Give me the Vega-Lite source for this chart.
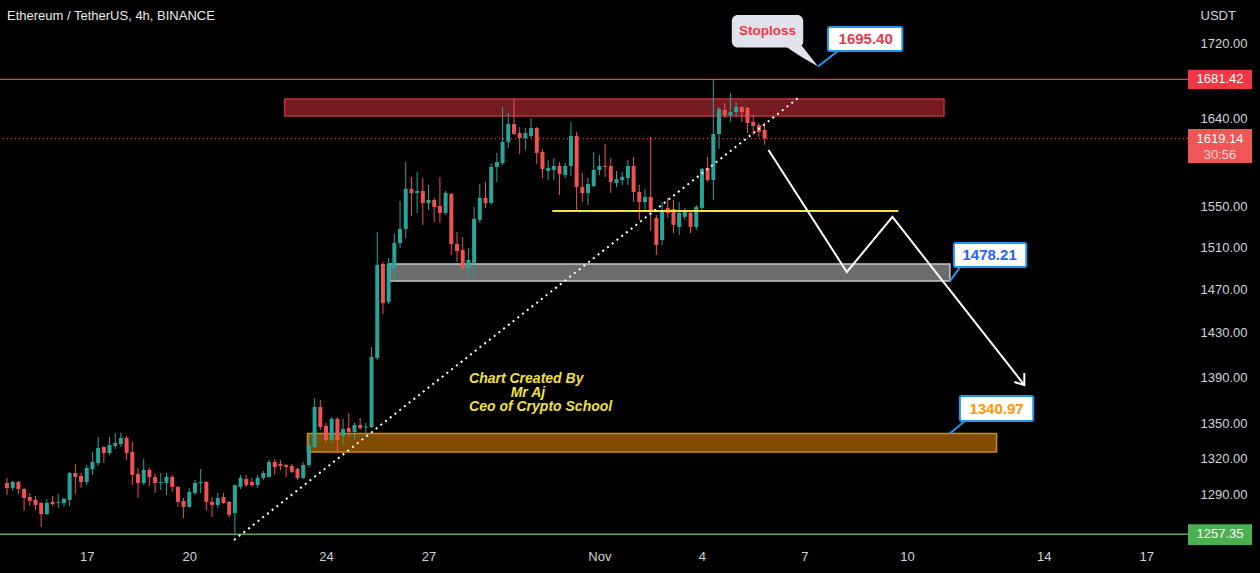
{
  "$schema": "https://vega.github.io/schema/vega-lite/v6.json",
  "width": 1188,
  "height": 545,
  "autosize": {"type": "none"},
  "padding": {"left": 0, "top": 0, "right": 72, "bottom": 28},
  "background": "#000000",
  "config": {"view": {"stroke": null}, "font": "Liberation Sans"},
  "title": {"text": "Ethereum / TetherUS, 4h, BINANCE", "anchor": "start", "frame": "group", "orient": "top", "offset": -23, "dx": 7, "font": "Liberation Sans", "fontSize": 13, "fontWeight": "normal", "color": "#ececec"},
  "datasets": {
    "candles": [
      {"t":"2022-10-14T16:00:00Z","o":1299.3,"h":1303.5,"l":1289.4,"c":1295.2},
      {"t":"2022-10-14T20:00:00Z","o":1295.2,"h":1300.9,"l":1292.7,"c":1300.1},
      {"t":"2022-10-15T00:00:00Z","o":1300.1,"h":1300.9,"l":1290.2,"c":1294.3},
      {"t":"2022-10-15T04:00:00Z","o":1294.3,"h":1295.0,"l":1276.3,"c":1286.9},
      {"t":"2022-10-15T08:00:00Z","o":1287.7,"h":1291.0,"l":1280.4,"c":1284.5},
      {"t":"2022-10-15T12:00:00Z","o":1285.3,"h":1288.6,"l":1277.1,"c":1281.2},
      {"t":"2022-10-15T16:00:00Z","o":1282.8,"h":1283.5,"l":1263.3,"c":1273.8},
      {"t":"2022-10-15T20:00:00Z","o":1273.8,"h":1286.1,"l":1273.0,"c":1282.8},
      {"t":"2022-10-16T00:00:00Z","o":1283.7,"h":1288.6,"l":1280.4,"c":1282.0},
      {"t":"2022-10-16T04:00:00Z","o":1283.0,"h":1290.2,"l":1278.8,"c":1283.7},
      {"t":"2022-10-16T08:00:00Z","o":1282.8,"h":1286.9,"l":1279.6,"c":1286.1},
      {"t":"2022-10-16T12:00:00Z","o":1285.3,"h":1308.5,"l":1280.4,"c":1307.6},
      {"t":"2022-10-16T16:00:00Z","o":1307.6,"h":1315.1,"l":1290.2,"c":1304.3},
      {"t":"2022-10-16T20:00:00Z","o":1305.1,"h":1307.6,"l":1295.2,"c":1300.1},
      {"t":"2022-10-17T00:00:00Z","o":1300.1,"h":1314.3,"l":1297.6,"c":1311.8},
      {"t":"2022-10-17T04:00:00Z","o":1310.9,"h":1325.3,"l":1306.0,"c":1316.8},
      {"t":"2022-10-17T08:00:00Z","o":1316.0,"h":1338.1,"l":1313.5,"c":1328.7},
      {"t":"2022-10-17T12:00:00Z","o":1329.5,"h":1330.3,"l":1316.0,"c":1324.4},
      {"t":"2022-10-17T16:00:00Z","o":1324.4,"h":1338.1,"l":1322.7,"c":1331.2},
      {"t":"2022-10-17T20:00:00Z","o":1330.3,"h":1341.5,"l":1327.8,"c":1332.9},
      {"t":"2022-10-18T00:00:00Z","o":1332.0,"h":1341.5,"l":1329.5,"c":1337.2},
      {"t":"2022-10-18T04:00:00Z","o":1337.2,"h":1338.9,"l":1318.5,"c":1324.4},
      {"t":"2022-10-18T08:00:00Z","o":1325.3,"h":1333.7,"l":1297.6,"c":1306.0},
      {"t":"2022-10-18T12:00:00Z","o":1306.8,"h":1311.8,"l":1286.9,"c":1299.3},
      {"t":"2022-10-18T16:00:00Z","o":1299.3,"h":1319.4,"l":1297.6,"c":1310.1},
      {"t":"2022-10-18T20:00:00Z","o":1310.1,"h":1311.8,"l":1296.8,"c":1304.3},
      {"t":"2022-10-19T00:00:00Z","o":1304.3,"h":1306.8,"l":1291.0,"c":1299.3},
      {"t":"2022-10-19T04:00:00Z","o":1299.3,"h":1307.6,"l":1293.5,"c":1300.1},
      {"t":"2022-10-19T08:00:00Z","o":1299.3,"h":1307.6,"l":1289.4,"c":1304.3},
      {"t":"2022-10-19T12:00:00Z","o":1304.3,"h":1306.0,"l":1291.8,"c":1296.0},
      {"t":"2022-10-19T16:00:00Z","o":1296.0,"h":1296.8,"l":1279.6,"c":1283.7},
      {"t":"2022-10-19T20:00:00Z","o":1284.5,"h":1286.9,"l":1270.5,"c":1279.6},
      {"t":"2022-10-20T00:00:00Z","o":1279.6,"h":1295.2,"l":1278.8,"c":1291.8},
      {"t":"2022-10-20T04:00:00Z","o":1291.0,"h":1301.8,"l":1289.4,"c":1299.3},
      {"t":"2022-10-20T08:00:00Z","o":1299.3,"h":1310.9,"l":1291.0,"c":1300.1},
      {"t":"2022-10-20T12:00:00Z","o":1300.1,"h":1300.9,"l":1277.1,"c":1283.7},
      {"t":"2022-10-20T16:00:00Z","o":1283.7,"h":1287.7,"l":1271.3,"c":1281.2},
      {"t":"2022-10-20T20:00:00Z","o":1281.2,"h":1291.0,"l":1278.8,"c":1286.9},
      {"t":"2022-10-21T00:00:00Z","o":1287.7,"h":1291.0,"l":1282.0,"c":1282.8},
      {"t":"2022-10-21T04:00:00Z","o":1283.7,"h":1284.5,"l":1271.3,"c":1273.0},
      {"t":"2022-10-21T08:00:00Z","o":1274.6,"h":1297.6,"l":1257.35,"c":1297.6},
      {"t":"2022-10-21T12:00:00Z","o":1296.0,"h":1306.0,"l":1294.3,"c":1303.5},
      {"t":"2022-10-21T16:00:00Z","o":1302.6,"h":1306.0,"l":1296.0,"c":1297.6},
      {"t":"2022-10-21T20:00:00Z","o":1300.1,"h":1303.5,"l":1296.0,"c":1297.6},
      {"t":"2022-10-22T00:00:00Z","o":1297.6,"h":1306.0,"l":1295.0,"c":1303.5},
      {"t":"2022-10-22T04:00:00Z","o":1303.5,"h":1309.3,"l":1301.8,"c":1307.6},
      {"t":"2022-10-22T08:00:00Z","o":1304.3,"h":1318.5,"l":1303.5,"c":1316.8},
      {"t":"2022-10-22T12:00:00Z","o":1316.8,"h":1319.4,"l":1306.0,"c":1312.6},
      {"t":"2022-10-22T16:00:00Z","o":1315.1,"h":1318.5,"l":1310.1,"c":1313.5},
      {"t":"2022-10-22T20:00:00Z","o":1314.3,"h":1315.1,"l":1304.3,"c":1312.6},
      {"t":"2022-10-23T00:00:00Z","o":1313.5,"h":1315.1,"l":1307.6,"c":1308.5},
      {"t":"2022-10-23T04:00:00Z","o":1310.9,"h":1311.8,"l":1301.8,"c":1303.5},
      {"t":"2022-10-23T08:00:00Z","o":1303.5,"h":1316.8,"l":1302.6,"c":1314.3},
      {"t":"2022-10-23T12:00:00Z","o":1314.3,"h":1339.8,"l":1312.6,"c":1331.2},
      {"t":"2022-10-23T16:00:00Z","o":1329.5,"h":1371.8,"l":1328.7,"c":1363.9},
      {"t":"2022-10-23T20:00:00Z","o":1363.9,"h":1370.1,"l":1344.0,"c":1346.6},
      {"t":"2022-10-24T00:00:00Z","o":1347.4,"h":1350.1,"l":1332.9,"c":1335.5},
      {"t":"2022-10-24T04:00:00Z","o":1335.5,"h":1355.3,"l":1332.9,"c":1353.6},
      {"t":"2022-10-24T08:00:00Z","o":1353.6,"h":1355.3,"l":1324.4,"c":1335.5},
      {"t":"2022-10-24T12:00:00Z","o":1338.9,"h":1353.6,"l":1332.9,"c":1344.9},
      {"t":"2022-10-24T16:00:00Z","o":1345.7,"h":1358.7,"l":1338.1,"c":1342.3},
      {"t":"2022-10-24T20:00:00Z","o":1342.3,"h":1350.1,"l":1335.5,"c":1348.3},
      {"t":"2022-10-25T00:00:00Z","o":1348.3,"h":1354.4,"l":1344.0,"c":1345.7},
      {"t":"2022-10-25T04:00:00Z","o":1346.2,"h":1350.1,"l":1341.5,"c":1347.0},
      {"t":"2022-10-25T08:00:00Z","o":1346.6,"h":1417.2,"l":1345.7,"c":1408.2},
      {"t":"2022-10-25T12:00:00Z","o":1407.3,"h":1525.3,"l":1405.5,"c":1493.5},
      {"t":"2022-10-25T16:00:00Z","o":1494.4,"h":1496.3,"l":1447.4,"c":1457.7},
      {"t":"2022-10-25T20:00:00Z","o":1458.6,"h":1500.2,"l":1456.8,"c":1495.0},
      {"t":"2022-10-26T00:00:00Z","o":1490.0,"h":1523.4,"l":1477.4,"c":1514.6},
      {"t":"2022-10-26T04:00:00Z","o":1514.6,"h":1555.8,"l":1509.8,"c":1528.3},
      {"t":"2022-10-26T08:00:00Z","o":1528.3,"h":1595.0,"l":1519.5,"c":1567.8},
      {"t":"2022-10-26T12:00:00Z","o":1567.8,"h":1579.8,"l":1541.0,"c":1563.8},
      {"t":"2022-10-26T16:00:00Z","o":1563.8,"h":1584.9,"l":1544.0,"c":1565.8},
      {"t":"2022-10-26T20:00:00Z","o":1565.8,"h":1578.8,"l":1532.2,"c":1553.8},
      {"t":"2022-10-27T00:00:00Z","o":1553.8,"h":1571.8,"l":1546.9,"c":1556.8},
      {"t":"2022-10-27T04:00:00Z","o":1556.8,"h":1558.8,"l":1535.1,"c":1549.9},
      {"t":"2022-10-27T08:00:00Z","o":1550.9,"h":1579.8,"l":1534.1,"c":1544.0},
      {"t":"2022-10-27T12:00:00Z","o":1544.0,"h":1565.8,"l":1542.0,"c":1563.8},
      {"t":"2022-10-27T16:00:00Z","o":1562.8,"h":1563.8,"l":1503.1,"c":1513.6},
      {"t":"2022-10-27T20:00:00Z","o":1513.6,"h":1525.3,"l":1496.4,"c":1506.9},
      {"t":"2022-10-28T00:00:00Z","o":1507.9,"h":1520.4,"l":1488.7,"c":1490.6},
      {"t":"2022-10-28T04:00:00Z","o":1490.6,"h":1509.8,"l":1482.1,"c":1498.3},
      {"t":"2022-10-28T08:00:00Z","o":1495.4,"h":1549.9,"l":1481.2,"c":1538.1},
      {"t":"2022-10-28T12:00:00Z","o":1537.1,"h":1572.8,"l":1534.1,"c":1558.8},
      {"t":"2022-10-28T16:00:00Z","o":1558.8,"h":1574.8,"l":1548.9,"c":1553.8},
      {"t":"2022-10-28T20:00:00Z","o":1553.8,"h":1594.0,"l":1551.9,"c":1590.0},
      {"t":"2022-10-29T00:00:00Z","o":1590.0,"h":1604.3,"l":1574.8,"c":1595.0},
      {"t":"2022-10-29T04:00:00Z","o":1594.0,"h":1652.1,"l":1592.0,"c":1615.6},
      {"t":"2022-10-29T08:00:00Z","o":1615.6,"h":1645.8,"l":1609.4,"c":1634.3},
      {"t":"2022-10-29T12:00:00Z","o":1634.3,"h":1660.6,"l":1622.8,"c":1623.8},
      {"t":"2022-10-29T16:00:00Z","o":1624.8,"h":1631.1,"l":1603.3,"c":1619.7},
      {"t":"2022-10-29T20:00:00Z","o":1619.7,"h":1630.1,"l":1607.4,"c":1624.8},
      {"t":"2022-10-30T00:00:00Z","o":1621.8,"h":1640.6,"l":1619.7,"c":1630.1},
      {"t":"2022-10-30T04:00:00Z","o":1630.1,"h":1631.1,"l":1593.0,"c":1604.3},
      {"t":"2022-10-30T08:00:00Z","o":1605.3,"h":1608.4,"l":1578.8,"c":1588.0},
      {"t":"2022-10-30T12:00:00Z","o":1586.0,"h":1597.1,"l":1576.8,"c":1588.9},
      {"t":"2022-10-30T16:00:00Z","o":1587.0,"h":1599.1,"l":1576.8,"c":1591.0},
      {"t":"2022-10-30T20:00:00Z","o":1591.0,"h":1595.0,"l":1561.8,"c":1582.9},
      {"t":"2022-10-31T00:00:00Z","o":1581.9,"h":1594.0,"l":1578.8,"c":1591.0},
      {"t":"2022-10-31T04:00:00Z","o":1591.0,"h":1636.4,"l":1580.9,"c":1621.8},
      {"t":"2022-10-31T08:00:00Z","o":1621.8,"h":1626.0,"l":1545.0,"c":1569.8},
      {"t":"2022-10-31T12:00:00Z","o":1569.8,"h":1583.9,"l":1554.8,"c":1563.8},
      {"t":"2022-10-31T16:00:00Z","o":1563.8,"h":1578.8,"l":1551.9,"c":1572.8},
      {"t":"2022-10-31T20:00:00Z","o":1570.8,"h":1605.3,"l":1569.8,"c":1587.0},
      {"t":"2022-11-01T00:00:00Z","o":1587.0,"h":1602.2,"l":1581.9,"c":1591.0},
      {"t":"2022-11-01T04:00:00Z","o":1591.0,"h":1613.5,"l":1579.8,"c":1590.0},
      {"t":"2022-11-01T08:00:00Z","o":1591.0,"h":1599.1,"l":1563.8,"c":1574.8},
      {"t":"2022-11-01T12:00:00Z","o":1573.8,"h":1585.9,"l":1569.8,"c":1577.8},
      {"t":"2022-11-01T16:00:00Z","o":1576.8,"h":1584.9,"l":1571.8,"c":1579.8},
      {"t":"2022-11-01T20:00:00Z","o":1578.8,"h":1597.1,"l":1571.8,"c":1591.0},
      {"t":"2022-11-02T00:00:00Z","o":1591.0,"h":1600.2,"l":1554.8,"c":1564.8},
      {"t":"2022-11-02T04:00:00Z","o":1564.8,"h":1571.8,"l":1537.1,"c":1554.8},
      {"t":"2022-11-02T08:00:00Z","o":1554.8,"h":1567.8,"l":1546.9,"c":1559.8},
      {"t":"2022-11-02T12:00:00Z","o":1559.8,"h":1620.8,"l":1526.3,"c":1544.9},
      {"t":"2022-11-02T16:00:00Z","o":1539.1,"h":1542.0,"l":1503.1,"c":1512.7},
      {"t":"2022-11-02T20:00:00Z","o":1517.5,"h":1554.8,"l":1512.7,"c":1544.9},
      {"t":"2022-11-03T00:00:00Z","o":1548.9,"h":1558.8,"l":1539.1,"c":1544.0},
      {"t":"2022-11-03T04:00:00Z","o":1547.9,"h":1556.8,"l":1524.3,"c":1532.2},
      {"t":"2022-11-03T08:00:00Z","o":1530.2,"h":1554.8,"l":1522.4,"c":1544.0},
      {"t":"2022-11-03T12:00:00Z","o":1540.1,"h":1548.9,"l":1537.1,"c":1546.9},
      {"t":"2022-11-03T16:00:00Z","o":1544.0,"h":1544.9,"l":1524.3,"c":1530.2},
      {"t":"2022-11-03T20:00:00Z","o":1530.2,"h":1551.9,"l":1527.3,"c":1549.9},
      {"t":"2022-11-04T00:00:00Z","o":1548.9,"h":1589.0,"l":1546.9,"c":1588.0},
      {"t":"2022-11-04T04:00:00Z","o":1589.0,"h":1600.2,"l":1574.8,"c":1576.8},
      {"t":"2022-11-04T08:00:00Z","o":1576.8,"h":1681.42,"l":1556.8,"c":1623.8},
      {"t":"2022-11-04T12:00:00Z","o":1623.8,"h":1652.1,"l":1608.4,"c":1650.0},
      {"t":"2022-11-04T16:00:00Z","o":1649.0,"h":1656.3,"l":1640.6,"c":1643.7},
      {"t":"2022-11-04T20:00:00Z","o":1643.7,"h":1666.7,"l":1636.4,"c":1646.8},
      {"t":"2022-11-05T00:00:00Z","o":1646.8,"h":1657.4,"l":1641.6,"c":1652.1},
      {"t":"2022-11-05T04:00:00Z","o":1652.1,"h":1652.6,"l":1636.4,"c":1646.8},
      {"t":"2022-11-05T08:00:00Z","o":1651.0,"h":1652.1,"l":1624.9,"c":1635.3},
      {"t":"2022-11-05T12:00:00Z","o":1636.4,"h":1643.7,"l":1622.8,"c":1632.2},
      {"t":"2022-11-05T16:00:00Z","o":1633.2,"h":1635.3,"l":1620.8,"c":1625.9},
      {"t":"2022-11-05T20:00:00Z","o":1628.0,"h":1636.4,"l":1612.5,"c":1619.14}
    ],
    "zones": [
      {"t1":"2022-10-22T18:57:00Z","t2":"2022-11-11T01:58:00Z","p1":1660.6,"p2":1642.6,"zone":"resistance"},
      {"t1":"2022-10-25T20:46:00Z","t2":"2022-11-11T06:08:00Z","p1":1494.4,"p2":1478.21,"zone":"middle"},
      {"t1":"2022-10-23T10:58:00Z","t2":"2022-11-12T14:52:00Z","p1":1340.97,"p2":1325.3,"zone":"support"}
    ],
    "levels": [
      {"lvl":"high","p":1681.42,"label":"1681.42","top":1692.0,"bottom":1671.3},
      {"lvl":"last","p":1619.14,"label":"1619.14","top":1629.0,"bottom":1594.0},
      {"lvl":"low","p":1257.35,"label":"1257.35","top":1265.5,"bottom":1248.8}
    ],
    "countdown": [{"p":1619.14,"label":"30:56"}],
    "yellow": [{"t1":"2022-10-30T14:56:00Z","t2":"2022-11-09T17:56:00Z","p":1545.9}],
    "trend": [{"t1":"2022-10-21T07:26:00Z","p1":1252.8,"t2":"2022-11-06T19:37:00Z","p2":1661.7}],
    "arrow": [
      {"part":"path","k":0,"t":"2022-11-05T22:44:00Z","p":1607.4},
      {"part":"path","k":1,"t":"2022-11-08T05:44:00Z","p":1486.8},
      {"part":"path","k":2,"t":"2022-11-09T13:46:00Z","p":1540.0},
      {"part":"path","k":3,"t":"2022-11-13T10:22:00Z","p":1383.2},
      {"part":"head","k":0,"t":"2022-11-13T03:24:00Z","p":1385.9},
      {"part":"head","k":1,"t":"2022-11-13T10:22:00Z","p":1383.2},
      {"part":"head","k":2,"t":"2022-11-13T10:22:00Z","p":1393.9}
    ],
    "tail": [
      {"t":"2022-11-06T09:10:00Z","p1":1718.9,"p2":1718.9},
      {"t":"2022-11-06T21:42:00Z","p1":1718.9,"p2":1706.0},
      {"t":"2022-11-07T09:32:00Z","p1":1695.4,"p2":1695.4}
    ],
    "stopbox": [{"t1":"2022-11-04T20:58:00Z","t2":"2022-11-06T23:06:00Z","p1":1752.2,"p2":1716.0,"tc":"2022-11-05T22:02:00Z","pc":1734.5,"label":"Stoploss"}],
    "pricebox": [
      {"t1":"2022-11-07T16:30:00Z","t2":"2022-11-09T20:43:00Z","p1":1738.8,"p2":1712.3,"tc":"2022-11-08T18:58:00Z","pc":1725.5,"label":"1695.40","role":"stop","tp":"2022-11-07T23:28:00Z","pp":1712.3,"ta":"2022-11-07T09:32:00Z","pa":1695.4},
      {"t1":"2022-11-11T08:56:00Z","t2":"2022-11-13T11:46:00Z","p1":1514.6,"p2":1491.6,"tc":"2022-11-12T10:00:00Z","pc":1503.1,"label":"1478.21","role":"mid","tp":"2022-11-11T13:48:00Z","pp":1492.6,"ta":"2022-11-11T06:08:00Z","pa":1478.21},
      {"t1":"2022-11-11T13:07:00Z","t2":"2022-11-13T16:38:00Z","p1":1373.6,"p2":1351.8,"tc":"2022-11-12T14:52:00Z","pc":1362.6,"label":"1340.97","role":"target","tp":"2022-11-11T16:35:00Z","pp":1351.8,"ta":"2022-11-11T06:08:00Z","pa":1340.97}
    ],
    "credit": [
      {"t":"2022-10-28T04:28:00Z","p":1388.6,"line":"Chart Created By"},
      {"t":"2022-10-29T09:42:00Z","p":1376.2,"line":"Mr Aj"},
      {"t":"2022-10-28T04:28:00Z","p":1364.0,"line":"Ceo of Crypto School"}
    ]
  },
  "layer": [
    {
      "data": {"name": "zones"},
      "mark": {"type": "rect", "strokeWidth": 1.5},
      "encoding": {
        "x": {"field": "t1", "type": "temporal", "scale": {"type": "utc", "domain": [{"year": 2022, "month": 10, "date": 14, "hours": 14, "minutes": 36, "utc": true}, {"year": 2022, "month": 11, "date": 18, "hours": 1, "minutes": 48, "utc": true}], "nice": false},
          "axis": {"title": null, "values": [{"year": 2022, "month": 10, "date": 17, "utc": true}, {"year": 2022, "month": 10, "date": 20, "utc": true}, {"year": 2022, "month": 10, "date": 24, "utc": true}, {"year": 2022, "month": 10, "date": 27, "utc": true}, {"year": 2022, "month": 11, "date": 1, "utc": true}, {"year": 2022, "month": 11, "date": 4, "utc": true}, {"year": 2022, "month": 11, "date": 7, "utc": true}, {"year": 2022, "month": 11, "date": 10, "utc": true}, {"year": 2022, "month": 11, "date": 14, "utc": true}, {"year": 2022, "month": 11, "date": 17, "utc": true}],
            "labelExpr": "utcdate(datum.value) == 1 ? 'Nov' : '' + utcdate(datum.value)", "ticks": false, "domain": false, "grid": false, "labelPadding": 5, "labelFont": "Liberation Sans", "labelFontSize": 13, "labelColor": "#d1d4dc", "labelFlush": false, "labelOverlap": false}},
        "x2": {"field": "t2"},
        "y": {"field": "p1", "type": "quantitative", "scale": {"type": "log", "domain": [1248.8, 1769.0], "nice": false, "zero": false},
          "axis": {"orient": "right", "values": [1290, 1320, 1350, 1390, 1430, 1470, 1510, 1550, 1640, 1720], "format": ".2f", "ticks": false, "domain": false, "grid": false, "labelPadding": 12, "labelFont": "Liberation Sans", "labelFontSize": 13, "labelColor": "#d1d4dc", "labelBaseline": "middle",
            "title": "USDT", "titleAngle": 0, "titleX": 12, "titleY": 15, "titleAlign": "left", "titleBaseline": "middle", "titleFont": "Liberation Sans", "titleFontSize": 13, "titleFontWeight": "normal", "titleColor": "#d1d4dc"}},
        "y2": {"field": "p2"},
        "fill": {"condition": [{"test": "datum.zone == 'resistance'", "value": "#761a21"}, {"test": "datum.zone == 'middle'", "value": "#6c6c6c"}], "value": "#7e4b00"},
        "stroke": {"condition": [{"test": "datum.zone == 'resistance'", "value": "#c0303a"}, {"test": "datum.zone == 'middle'", "value": "#c8c8c8"}], "value": "#d88a00"}
      }
    },
    {
      "data": {"name": "levels"},
      "transform": [{"filter": "datum.lvl == 'high'"}],
      "mark": {"type": "rule", "color": "#f23645", "strokeWidth": 1.3},
      "encoding": {"y": {"field": "p", "type": "quantitative"}}
    },
    {
      "data": {"name": "levels"},
      "transform": [{"filter": "datum.lvl == 'last'"}],
      "mark": {"type": "rule", "color": "#f23645", "strokeWidth": 1.3, "strokeDash": [1, 3]},
      "encoding": {"y": {"field": "p", "type": "quantitative"}}
    },
    {
      "data": {"name": "levels"},
      "transform": [{"filter": "datum.lvl == 'low'"}],
      "mark": {"type": "rule", "color": "#5ea35e", "strokeWidth": 1.5},
      "encoding": {"y": {"field": "p", "type": "quantitative"}}
    },
    {
      "data": {"name": "candles"},
      "mark": {"type": "rule", "strokeWidth": 1},
      "encoding": {
        "x": {"field": "t", "type": "temporal"},
        "y": {"field": "l", "type": "quantitative"},
        "y2": {"field": "h"},
        "color": {"condition": {"test": "datum.c >= datum.o", "value": "#26a69a"}, "value": "#ef5350"}
      }
    },
    {
      "data": {"name": "candles"},
      "mark": {"type": "bar", "width": 4},
      "encoding": {
        "x": {"field": "t", "type": "temporal"},
        "y": {"field": "o", "type": "quantitative"},
        "y2": {"field": "c"},
        "color": {"condition": {"test": "datum.c >= datum.o", "value": "#26a69a"}, "value": "#ef5350"}
      }
    },
    {
      "data": {"name": "yellow"},
      "mark": {"type": "rule", "color": "#f5e33b", "strokeWidth": 2},
      "encoding": {"x": {"field": "t1", "type": "temporal"}, "x2": {"field": "t2"}, "y": {"field": "p", "type": "quantitative"}}
    },
    {
      "data": {"name": "trend"},
      "mark": {"type": "rule", "color": "#ffffff", "strokeWidth": 2, "strokeDash": [2, 4]},
      "encoding": {"x": {"field": "t1", "type": "temporal"}, "x2": {"field": "t2"}, "y": {"field": "p1", "type": "quantitative"}, "y2": {"field": "p2"}}
    },
    {
      "data": {"name": "arrow"},
      "mark": {"type": "line", "color": "#ffffff", "strokeWidth": 2},
      "encoding": {"x": {"field": "t", "type": "temporal"}, "y": {"field": "p", "type": "quantitative"}, "detail": {"field": "part"}, "order": {"field": "k"}}
    },
    {
      "data": {"name": "tail"},
      "mark": {"type": "area", "color": "#e0e3eb"},
      "encoding": {"x": {"field": "t", "type": "temporal"}, "y": {"field": "p1", "type": "quantitative"}, "y2": {"field": "p2"}}
    },
    {
      "data": {"name": "stopbox"},
      "mark": {"type": "rect", "fill": "#e0e3eb", "cornerRadius": 6},
      "encoding": {"x": {"field": "t1", "type": "temporal"}, "x2": {"field": "t2"}, "y": {"field": "p1", "type": "quantitative"}, "y2": {"field": "p2"}}
    },
    {
      "data": {"name": "stopbox"},
      "mark": {"type": "text", "font": "Liberation Sans", "fontSize": 13.5, "fontWeight": "bold", "color": "#f23645", "align": "center", "baseline": "middle"},
      "encoding": {"x": {"field": "tc", "type": "temporal"}, "y": {"field": "pc", "type": "quantitative"}, "text": {"field": "label"}}
    },
    {
      "data": {"name": "pricebox"},
      "mark": {"type": "rule", "color": "#2196f3", "strokeWidth": 2},
      "encoding": {"x": {"field": "tp", "type": "temporal"}, "x2": {"field": "ta"}, "y": {"field": "pp", "type": "quantitative"}, "y2": {"field": "pa"}}
    },
    {
      "data": {"name": "pricebox"},
      "mark": {"type": "rect", "fill": "#ffffff", "stroke": "#2196f3", "strokeWidth": 2, "cornerRadius": 2},
      "encoding": {"x": {"field": "t1", "type": "temporal"}, "x2": {"field": "t2"}, "y": {"field": "p1", "type": "quantitative"}, "y2": {"field": "p2"}}
    },
    {
      "data": {"name": "pricebox"},
      "mark": {"type": "text", "font": "Liberation Sans", "fontSize": 15, "fontWeight": "bold", "align": "center", "baseline": "middle"},
      "encoding": {"x": {"field": "tc", "type": "temporal"}, "y": {"field": "pc", "type": "quantitative"}, "text": {"field": "label"},
        "color": {"condition": [{"test": "datum.role == 'stop'", "value": "#e8394d"}, {"test": "datum.role == 'mid'", "value": "#2962ff"}], "value": "#ff9800"}}
    },
    {
      "data": {"name": "credit"},
      "mark": {"type": "text", "font": "Liberation Sans", "fontSize": 14, "fontWeight": "bold", "fontStyle": "italic", "color": "#f5e03a", "align": "left", "baseline": "middle"},
      "encoding": {"x": {"field": "t", "type": "temporal"}, "y": {"field": "p", "type": "quantitative"}, "text": {"field": "line"}}
    },
    {
      "data": {"name": "levels"},
      "mark": {"type": "rect", "x": {"expr": "width"}, "x2": {"expr": "width + 64"}},
      "encoding": {"y": {"field": "top", "type": "quantitative"}, "y2": {"field": "bottom"},
        "fill": {"condition": [{"test": "datum.lvl == 'high'", "value": "#f23645"}, {"test": "datum.lvl == 'last'", "value": "#f05656"}], "value": "#4caf50"}}
    },
    {
      "data": {"name": "levels"},
      "mark": {"type": "text", "x": {"expr": "width + 32"}, "font": "Liberation Sans", "fontSize": 13, "color": "#ffffff", "align": "center", "baseline": "middle"},
      "encoding": {"y": {"field": "p", "type": "quantitative"}, "text": {"field": "label"}}
    },
    {
      "data": {"name": "countdown"},
      "mark": {"type": "text", "x": {"expr": "width + 32"}, "dy": 16, "font": "Liberation Sans", "fontSize": 13, "color": "#fbd3d3", "align": "center", "baseline": "middle"},
      "encoding": {"y": {"field": "p", "type": "quantitative"}, "text": {"field": "label"}}
    }
  ]
}
